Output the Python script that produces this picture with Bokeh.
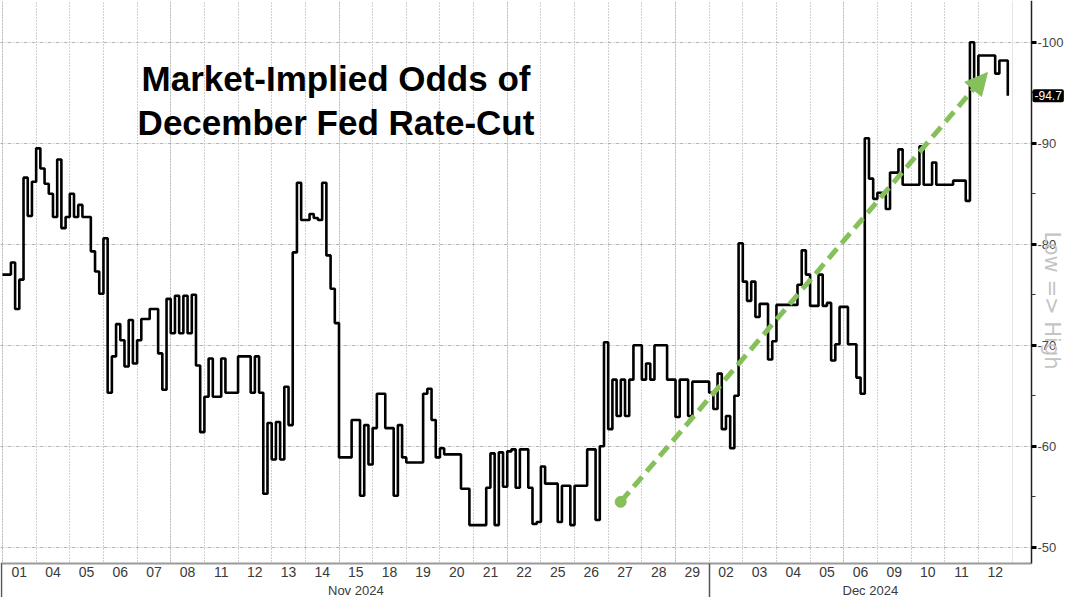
import math
import numpy as np
from bokeh.plotting import figure
from bokeh.models import (Range1d, LinearAxis, FixedTicker, Label, Arrow,
                          NormalHead, Grid, CustomJSTickFormatter, BoxAnnotation)
from bokeh.embed import file_html
from bokeh.resources import INLINE

# ---------------- data ----------------
day_labels = ["01", "04", "05", "06", "07", "08", "11", "12", "13", "14",
              "15", "18", "19", "20", "21", "22", "25", "26", "27", "28",
              "29", "02", "03", "04", "05", "06", "09", "10", "11", "12"]
month_labels = ["Nov 2024", "Dec 2024"]
month_first_day = [0, 21]          # index of first trading day of each month

SAMPLES_PER_DAY = 8

odds_nov01 = [77.0, 77.0, 78.2, 73.6, 76.5, 86.6, 82.8, 86.2]
odds_nov04_08 = [
    89.5, 87.5, 86.0, 85.0, 82.7, 88.4, 81.6, 82.7,
    85.0, 82.7, 83.9, 82.7, 82.7, 79.3, 77.3, 75.1,
    80.6, 65.3, 68.9, 72.1, 70.5, 67.9, 72.5, 68.2,
    70.5, 72.6, 72.6, 73.6, 73.6, 69.2, 65.6, 74.6,
    71.2, 74.9, 71.2, 74.9, 71.2, 75.0, 68.0, 61.4,
]
odds_nov11_15 = [
    64.9, 68.7, 64.9, 64.9, 68.7, 65.3, 65.3, 65.3,
    68.9, 68.9, 68.9, 65.3, 68.9, 65.3, 55.3, 62.3,
    58.7, 62.4, 58.7, 65.9, 62.1, 79.2, 86.1, 82.4,
    82.4, 83.0, 82.6, 82.4, 86.1, 78.9, 75.6, 72.2,
    58.9, 58.9, 58.9, 62.6, 62.6, 55.1, 62.1, 58.2,
]
odds_nov18_22 = [
    61.8, 65.2, 65.2, 61.8, 61.8, 55.1, 62.1, 58.9,
    58.4, 58.4, 58.4, 58.4, 65.2, 65.7, 62.6, 58.9,
    59.8, 59.2, 59.2, 59.2, 59.2, 55.8, 55.8, 52.2,
    52.2, 52.2, 52.2, 55.9, 59.3, 52.2, 59.4, 56.0,
    59.5, 59.7, 55.9, 59.7, 59.7, 55.9, 52.3, 52.5,
]
odds_nov25_29 = [
    58.0, 56.3, 56.3, 56.3, 52.5, 56.1, 56.1, 52.2,
    56.1, 56.1, 56.1, 59.7, 59.7, 52.7, 60.0, 70.3,
    61.7, 66.6, 63.0, 66.6, 63.0, 66.6, 70.0, 70.0,
    66.6, 68.2, 66.6, 70.0, 70.0, 70.0, 66.6, 66.6,
    62.9, 66.6, 66.6, 63.0, 66.4, 66.4, 66.4, 66.4,
]
odds_dec02_06 = [
    65.3, 63.7, 67.2, 61.7, 63.0, 59.8, 65.0, 80.1,
    76.3, 74.4, 76.3, 72.8, 74.1, 74.1, 68.6, 70.4,
    74.0, 74.0, 74.0, 74.0, 74.0, 76.0, 79.4, 77.0,
    73.9, 73.9, 77.0, 73.9, 74.2, 68.5, 70.1, 73.8,
    73.8, 70.1, 70.1, 66.8, 65.2, 90.5, 86.5, 84.5,
]
odds_dec09_12 = [
    85.1, 85.1, 83.5, 87.1, 87.1, 89.4, 85.9, 85.9,
    85.9, 85.9, 89.7, 85.9, 85.9, 88.1, 85.9, 85.9,
    85.9, 85.9, 86.3, 86.3, 86.3, 84.3, 100.0, 95.5,
    98.7, 98.7, 98.7, 98.7, 96.9, 98.2, 98.2, 94.7,
]

y_ticks = [50, 60, 70, 80, 90, 100]
y_minor = [55, 65, 75, 85, 95]

# trend arrow (day position, odds)
arrow_from = (18.37, 54.5)
arrow_to = (29.27, 97.0)

title_lines = ["Market-Implied Odds of", "December Fed Rate-Cut"]
side_label = "Low => High"

# ---------------- build ----------------
vals = np.concatenate([odds_nov01, odds_nov04_08, odds_nov11_15, odds_nov18_22,
                       odds_nov25_29, odds_dec02_06, odds_dec09_12])
xs = np.arange(len(vals)) / SAMPLES_PER_DAY

W, H = 1064, 597

# pixel calibration of the layout
X0_PX, DAY_PX = 2.0, 33.65      # left edge of first day, width of one day
Y100_PX, UNIT_PX = 41.8, 10.1   # pixel row of 100, pixels per point


def px_to_x(px):
    return (px - X0_PX) / DAY_PX


def px_to_y(py):
    return 100 - (py - Y100_PX) / UNIT_PX


x_start, x_end = px_to_x(0), px_to_x(W)
y_top, y_bot = px_to_y(0), px_to_y(H)
y_axis_x = px_to_x(1031)        # location of the value axis
x_axis_y = px_to_y(563)         # location of the day axis
month_axis_y = px_to_y(582)     # location of the month labels

p = figure(width=W, height=H, output_backend="svg", toolbar_location=None,
           x_range=Range1d(x_start, x_end), y_range=Range1d(y_bot, y_top),
           x_axis_location=None, y_axis_location=None,
           min_border_left=0, min_border_right=0,
           min_border_top=0, min_border_bottom=0)
p.outline_line_color = None
p.background_fill_color = "white"
p.border_fill_color = "white"

FONT = "Liberation Sans"
GRID = "#a0a0a0"
GREEN = "#86c05a"
TXT = "#3a3a3a"

# grids
p.add_layout(Grid(dimension=0, ticker=FixedTicker(ticks=list(range(len(day_labels)))),
                  grid_line_color=GRID, grid_line_dash="1 2", grid_line_width=1))
p.add_layout(Grid(dimension=1, ticker=FixedTicker(ticks=y_ticks),
                  grid_line_color=GRID, grid_line_dash="2 6", grid_line_width=1.2))
# blank margins (grid does not run under the axes)
p.add_layout(BoxAnnotation(left=y_axis_x, fill_color="white", fill_alpha=1,
                           line_color=None, level="underlay"))
p.add_layout(BoxAnnotation(top=x_axis_y, fill_color="white", fill_alpha=1,
                           line_color=None, level="underlay"))

# value axis
yax = LinearAxis(ticker=FixedTicker(ticks=y_ticks, minor_ticks=y_minor),
                 formatter=CustomJSTickFormatter(code="return '-' + tick.toFixed(0)"),
                 fixed_location=y_axis_x, bounds=(x_axis_y, y_top))
yax.axis_line_color = "#222222"
yax.axis_line_width = 1.5
yax.major_tick_in = 0
yax.major_tick_out = 5
yax.major_tick_line_width = 3
yax.major_tick_line_color = "black"
yax.minor_tick_in = 0
yax.minor_tick_out = 4
yax.minor_tick_line_color = "#333333"
yax.major_label_standoff = 1
yax.major_label_text_font = FONT
yax.major_label_text_font_size = "13px"
yax.major_label_text_color = "#444444"
p.add_layout(yax, "right")

# day axis
day_ticks = [i + 0.5 for i in range(len(day_labels))]
xax = LinearAxis(ticker=FixedTicker(ticks=day_ticks, minor_ticks=[]),
                 major_label_overrides={t: lab for t, lab in zip(day_ticks, day_labels)},
                 fixed_location=x_axis_y, bounds=(x_start, y_axis_x))
xax.axis_line_color = "#9a9a9a"
xax.axis_line_width = 2
xax.major_tick_line_color = None
xax.minor_tick_line_color = None
xax.major_tick_out = 0
xax.major_tick_in = 0
xax.minor_tick_out = 0
xax.minor_tick_in = 0
xax.major_label_standoff = 3
xax.major_label_text_font = FONT
xax.major_label_text_font_size = "14px"
xax.major_label_text_color = TXT
p.add_layout(xax, "below")

# month separators (unlabelled axis carrying only the separator ticks)
sep_ticks = [x_start + 0.04] + [float(d) for d in month_first_day[1:]]
sx = LinearAxis(ticker=FixedTicker(ticks=[], minor_ticks=sep_ticks),
                fixed_location=x_axis_y, bounds=(x_start, y_axis_x))
sx.axis_line_color = None
sx.major_tick_line_color = None
sx.major_label_text_font_size = "0px"
sx.minor_tick_in = 0
sx.minor_tick_out = 40
sx.minor_tick_line_color = "#555555"
sx.minor_tick_line_width = 1.5
p.add_layout(sx, "below")

# month labels
month_ticks = [(month_first_day[0] + month_first_day[1]) / 2.0,
               (month_first_day[1] + y_axis_x) / 2.0]
mx = LinearAxis(ticker=FixedTicker(ticks=month_ticks, minor_ticks=[]),
                major_label_overrides={t: lab for t, lab in zip(month_ticks, month_labels)},
                fixed_location=month_axis_y)
mx.axis_line_color = None
mx.major_tick_line_color = None
mx.minor_tick_line_color = None
mx.major_tick_out = 0
mx.major_tick_in = 0
mx.minor_tick_out = 0
mx.minor_tick_in = 0
mx.major_label_standoff = 0
mx.major_label_text_font = FONT
mx.major_label_text_font_size = "13px"
mx.major_label_text_color = TXT
p.add_layout(mx, "below")

# series
p.step(xs, vals, mode="after", line_color="black", line_width=2.6)

# trend arrow
p.add_layout(Arrow(x_start=arrow_from[0], y_start=arrow_from[1],
                   x_end=arrow_to[0], y_end=arrow_to[1],
                   line_color=GREEN, line_width=5, line_dash="13 7",
                   end=NormalHead(size=22, fill_color=GREEN, line_color=GREEN)))
p.scatter([arrow_from[0]], [arrow_from[1]], size=11, color=GREEN)

# title
title_y = [px_to_y(78), px_to_y(122)]
title_x = px_to_x(335.5)
for txt, ty in zip(title_lines, title_y):
    p.add_layout(Label(x=title_x, y=ty, text=txt, text_align="center",
                       text_baseline="alphabetic", text_font=FONT,
                       text_font_style="bold", text_font_size="35px",
                       text_color="black"))

# last value box
last = float(vals[-1])
p.add_layout(Label(x=y_axis_x, y=last, x_offset=1, text="-%.1f" % last,
                   text_align="left", text_baseline="middle", text_font=FONT,
                   text_font_size="12px", text_color="white",
                   background_fill_color="black", padding=2, border_radius=2))

# side label
p.add_layout(Label(x=y_axis_x, y=px_to_y(300), x_offset=20, text=side_label,
                   angle=-math.pi / 2, text_align="center", text_baseline="middle",
                   text_font="DejaVu Sans", text_font_size="21px",
                   text_color="#c4c4c4"))

open("out.html", "w").write(file_html(p, INLINE))
